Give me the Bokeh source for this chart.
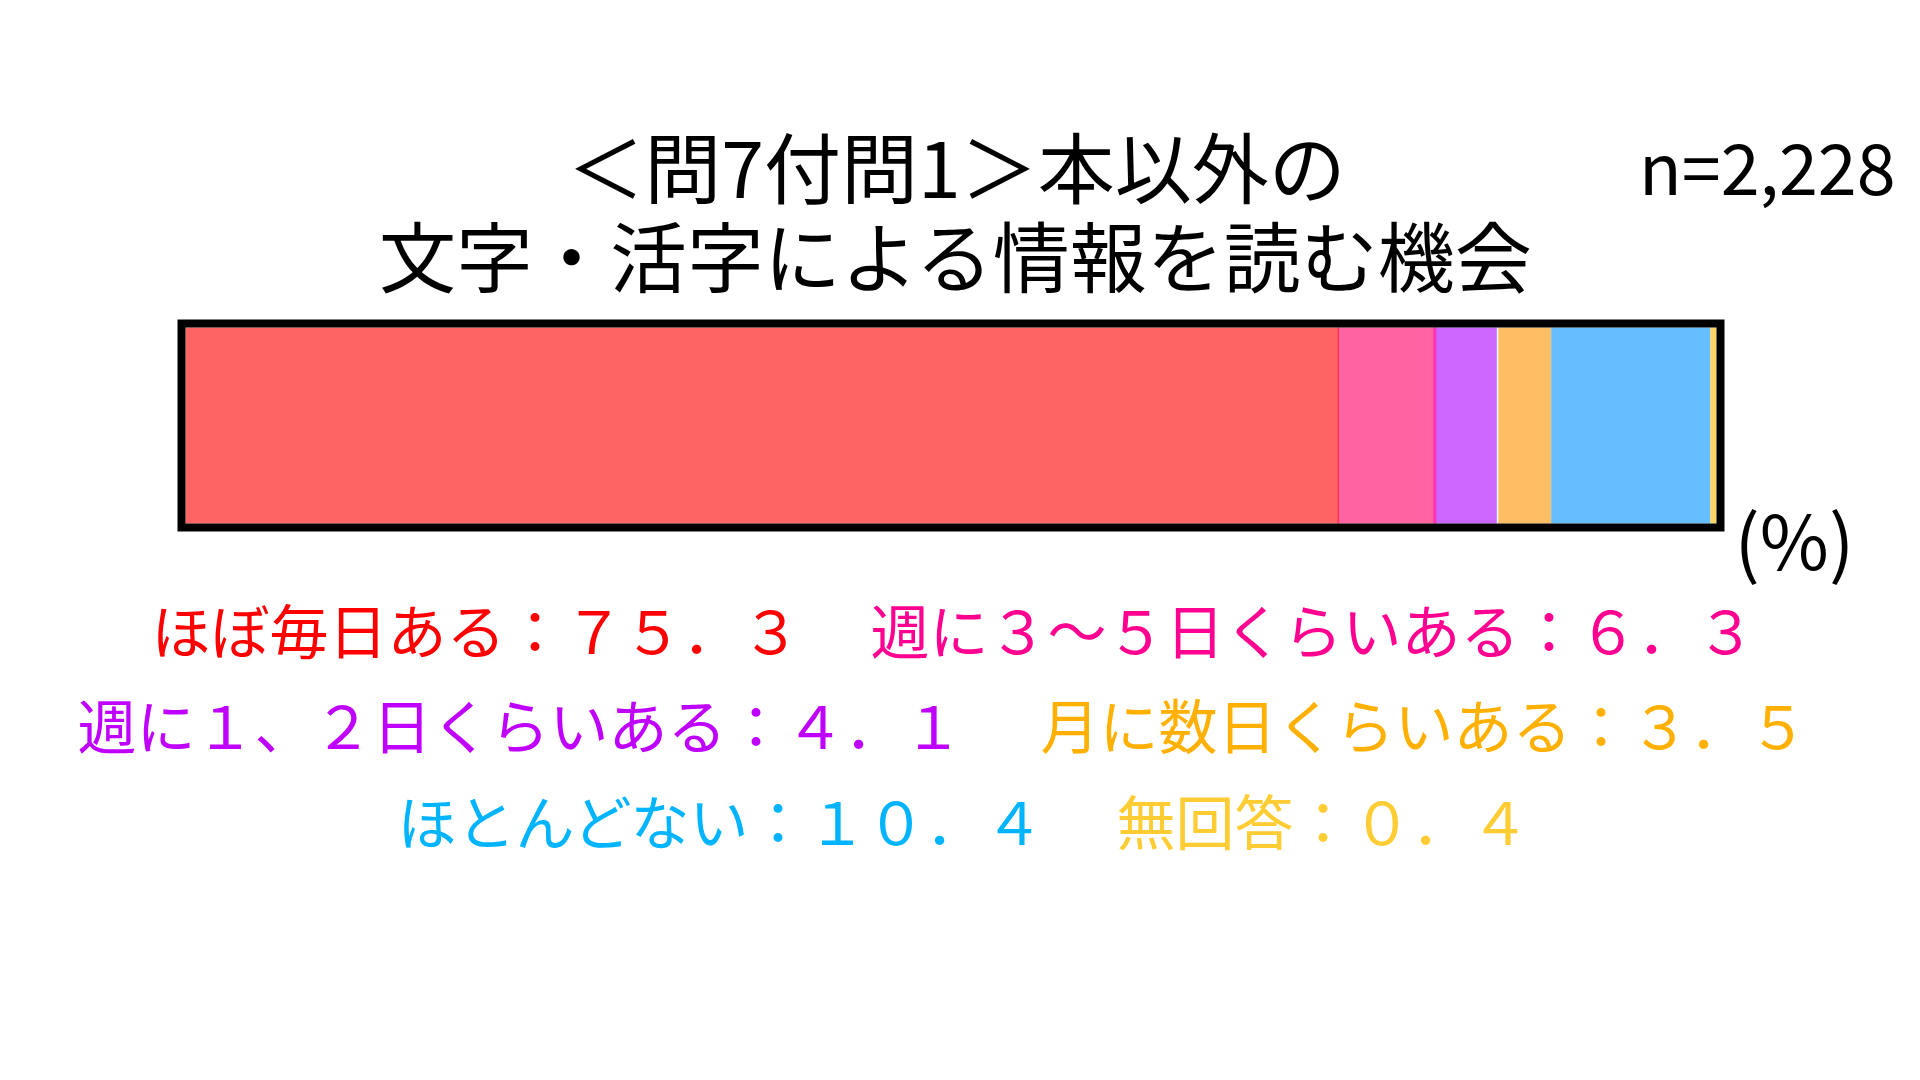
from bokeh.plotting import figure
from bokeh.models import Range1d
from bokeh.core.properties import value
from bokeh.embed import file_html
from bokeh.resources import INLINE

# ---------------- data ----------------
categories = ["ほぼ毎日ある", "週に３～５日くらいある", "週に１、２日くらいある",
              "月に数日くらいある", "ほとんどない", "無回答"]
values = [75.3, 6.3, 4.1, 3.5, 10.4, 0.4]
bar_colors = ["#FF6464", "#FF64A0", "#CC66FF", "#FFBE64", "#64BEFF", "#FFD466"]
sep_colors = ["#FF3355", "#FF33B4", "#FFFFFF", "#FFBE64", "#64BEFF", "#FFD466"]
sep_widths = [1.5, 3, 1.5, 0, 0, 0]
text_colors = ["#FF0000", "#FF0090", "#C000FF", "#FFB000", "#00B4FF", "#FFCC33"]
title_lines = ["＜問7付問1＞本以外の", "文字・活字による情報を読む機会"]
n_label = "n=2,228"
unit_label = "(%)"

# ---------------- layout (screenshot pixel coordinates) ----------------
W, H = 1904, 1064
OFF = 8
BAR_L, BAR_R, BAR_TOP, BAR_BOT = 193, 1724, 335, 531
BORDER = 8
FONT = "Noto Sans CJK JP"

k = (BAR_R - BAR_L) / 100.0
p = figure(width=W, height=H, output_backend="svg", toolbar_location=None,
           x_range=Range1d((OFF - BAR_L) / k, 100 + (OFF + W - BAR_R) / k),
           y_range=Range1d(0, 1), min_border=0)
p.extra_x_ranges = {"px": Range1d(OFF, OFF + W)}
p.extra_y_ranges = {"px": Range1d(OFF + H, OFF)}
p.axis.visible = False
p.xgrid.visible = False
p.ygrid.visible = False
p.outline_line_color = None
p.background_fill_color = "white"
p.border_fill_color = "white"

# stacked bar
rights = []
acc = 0.0
for v in values:
    acc += v
    rights.append(acc)
lefts = [r - v for r, v in zip(rights, values)]
cy = (BAR_TOP + BAR_BOT) / 2
p.hbar(y=[cy] * len(values), height=BAR_BOT - BAR_TOP, left=lefts, right=rights,
       fill_color=bar_colors, line_color=None, y_range_name="px")
p.segment(x0=rights[:-1], x1=rights[:-1], y0=[BAR_TOP] * 5, y1=[BAR_BOT] * 5,
          line_color=sep_colors[:-1], line_width=sep_widths[:-1], y_range_name="px")

# frame box
h = BORDER / 2
p.quad(left=[BAR_L - h], right=[BAR_R + h], top=[BAR_TOP - h], bottom=[BAR_BOT + h],
       fill_color=None, line_color="black", line_width=BORDER, line_join="miter",
       x_range_name="px", y_range_name="px")

# title
p.text(x=[964, 964], y=[172, 261], text=title_lines, text_align="center",
       text_baseline="middle", text_color="black",
       text_font=value(FONT), text_font_size=value("77px"),
       x_range_name="px", y_range_name="px")
p.text(x=[1903], y=[172], text=[n_label], text_align="right", text_baseline="middle",
       text_color="black", text_font=value(FONT), text_font_size=value("70px"),
       x_range_name="px", y_range_name="px")
p.text(x=[1742], y=[545], text=[unit_label], text_align="left", text_baseline="middle",
       text_color="black", text_font=value(FONT), text_font_size=value("75px"),
       x_range_name="px", y_range_name="px")

# legend labels
fw = str.maketrans("0123456789.", "０１２３４５６７８９．")
labels = [f"{c}：{str(v).translate(fw)}" for c, v in zip(categories, values)]
line_y = [636, 731, 827]
left_end = [808, 970, 1054]
right_start = [878, 1048, 1124]
for i in range(3):
    a, b = 2 * i, 2 * i + 1
    p.text(x=[left_end[i]], y=[line_y[i]], text=[labels[a]], text_align="right",
           text_baseline="middle", text_color=text_colors[a],
           text_font=value(FONT), text_font_size=value("59px"),
           x_range_name="px", y_range_name="px")
    p.text(x=[right_start[i]], y=[line_y[i]], text=[labels[b]], text_align="left",
           text_baseline="middle", text_color=text_colors[b],
           text_font=value(FONT), text_font_size=value("59px"),
           x_range_name="px", y_range_name="px")

open("out.html", "w").write(file_html(p, INLINE))
